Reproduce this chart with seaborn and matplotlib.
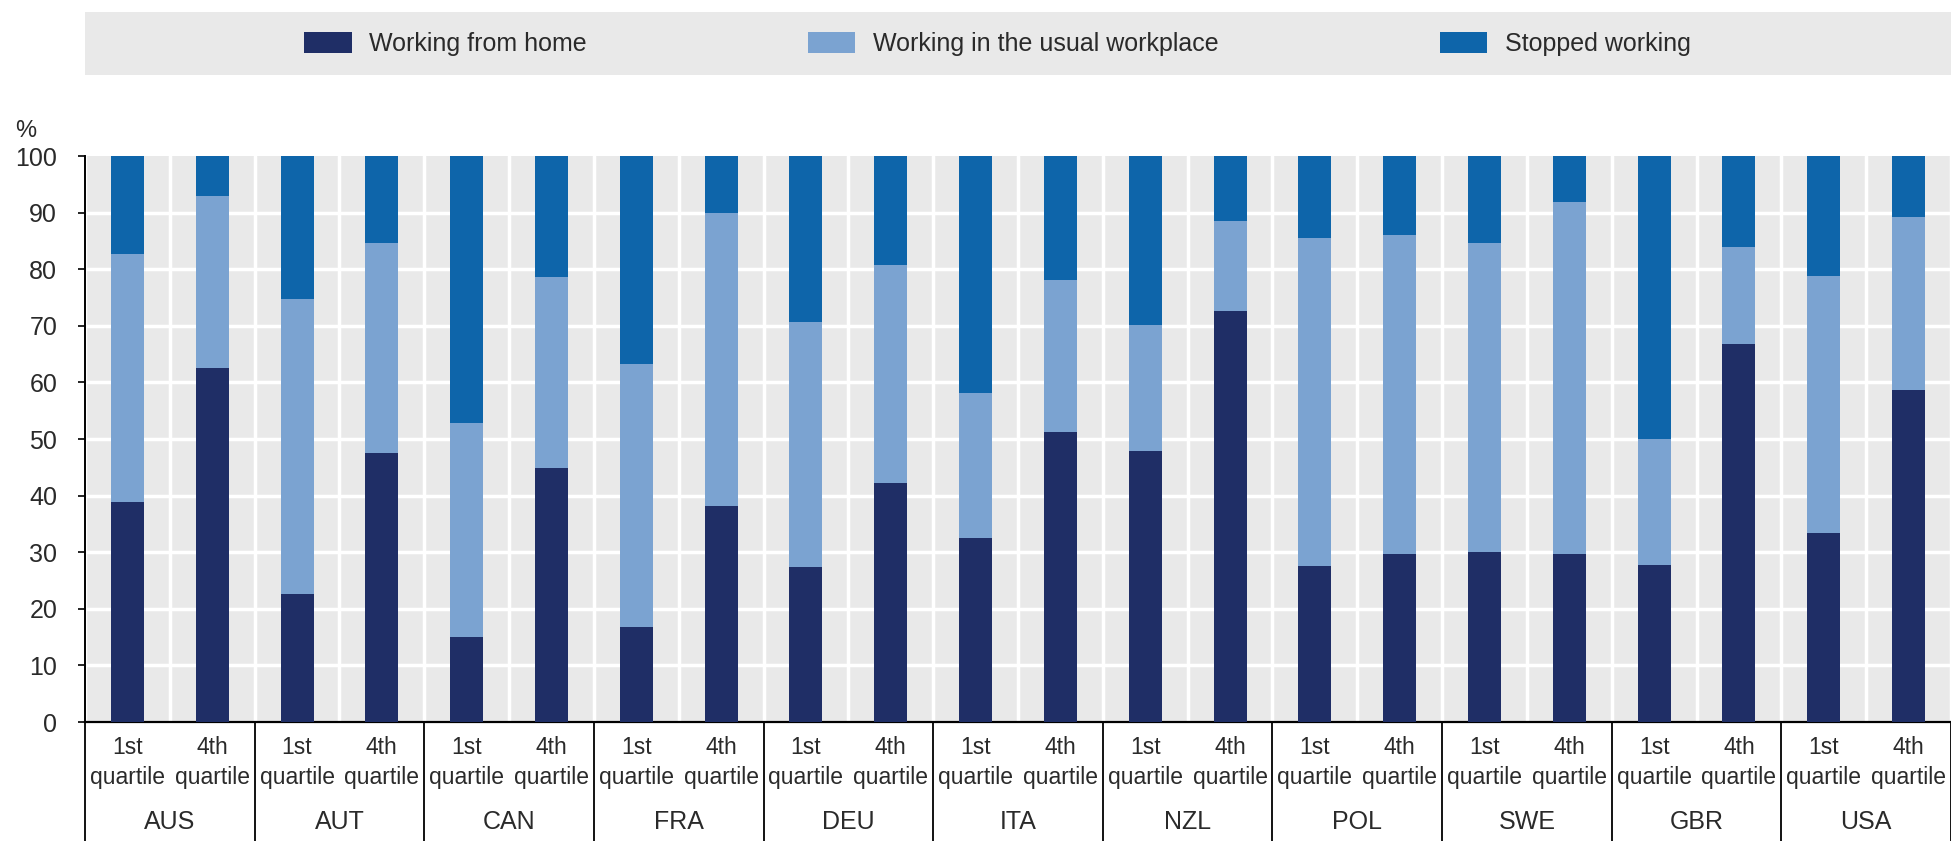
import matplotlib
matplotlib.use("Agg")
import matplotlib.pyplot as plt
import matplotlib.transforms as mtransforms
from matplotlib.patches import Rectangle, Patch
import numpy as np
import pandas as pd
import seaborn as sns

countries = ["AUS", "AUT", "CAN", "FRA", "DEU", "ITA", "NZL", "POL", "SWE", "GBR", "USA"]
quartiles = ["1st\nquartile", "4th\nquartile"]

# share of workers (%), pairs = (1st quartile, 4th quartile) per country
home = [38.8, 62.6, 22.7, 47.6, 15.0, 44.9, 16.7, 38.2, 27.4, 42.3, 32.5,
        51.3, 47.8, 72.6, 27.5, 29.6, 30.1, 29.6, 27.7, 66.8, 33.4, 58.6]
usual_top = [82.6, 92.9, 74.8, 84.7, 52.9, 78.6, 63.2, 89.9, 70.6, 80.8, 58.2,
             78.1, 70.1, 88.6, 85.6, 86.1, 84.7, 91.8, 50.0, 84.0, 78.8, 89.3]
stopped_top = [100.0] * 22

series_names = ["Working from home", "Working in the usual workplace", "Stopped working"]
colors = {"home": "#1f2e66", "usual": "#7ba3d1", "stopped": "#0e65aa"}
txt = "#2a2a2a"

slots = [f"{c} {q}" for c in countries for q in ["1st", "4th"]]
df = pd.DataFrame({
    "slot": slots,
    "home": home,
    "usual_top": usual_top,
    "stopped_top": stopped_top,
})

sns.set_theme(style="white")
plt.rcParams["font.family"] = ["Liberation Sans Narrow", "Liberation Sans", "DejaVu Sans"]

fig = plt.figure(figsize=(19.51, 8.41), dpi=100)
W, H = 1951, 841
ax = fig.add_axes([85 / W, 1 - 722 / H, 1 - 85 / W, (722 - 156) / H])
ax.set_facecolor("#e9e9e9")

bw = 0.39
sns.barplot(data=df, x="slot", y="stopped_top", order=slots, color=colors["stopped"],
            width=bw, saturation=1, ax=ax, zorder=3)
sns.barplot(data=df, x="slot", y="usual_top", order=slots, color=colors["usual"],
            width=bw, saturation=1, ax=ax, zorder=3)
sns.barplot(data=df, x="slot", y="home", order=slots, color=colors["home"],
            width=bw, saturation=1, ax=ax, zorder=3)
for p in ax.patches:
    p.set_linewidth(0)

ax.set_xlim(-0.5, len(slots) - 0.5)
ax.set_ylim(0, 100)
ax.set_yticks(np.arange(0, 101, 10))
ax.tick_params(axis="y", labelsize=18, labelcolor=txt, length=5, width=1.2, color="black",
               direction="out", pad=15, left=True)
for v in range(10, 100, 10):
    ax.axhline(v, color="white", lw=2.5, zorder=1)
for b in np.arange(-0.5, len(slots), 1.0):
    ax.axvline(b, color="white", lw=2.5, zorder=1)

for s in ["top", "right"]:
    ax.spines[s].set_visible(False)
ax.spines["left"].set_color("black")
ax.spines["left"].set_linewidth(1.4)
ax.spines["bottom"].set_color("black")
ax.spines["bottom"].set_linewidth(1.6)

ax.set_xlabel("")
ax.set_ylabel("")
ax.set_xticks(range(len(slots)))
ax.set_xticklabels(quartiles * len(countries), fontsize=16.5, linespacing=1.4, color=txt)
ax.tick_params(axis="x", length=0, pad=10)

trans = mtransforms.blended_transform_factory(ax.transData, ax.transAxes)
low = -(841 - 722) / (722 - 156)
for i in range(len(countries) + 1):
    xb = -0.5 + 2 * i
    ax.plot([xb, xb], [0, low], transform=trans, color="black", lw=1.3, clip_on=False)
for i, c in enumerate(countries):
    ax.text(2 * i + 0.5, -(822 - 722) / (722 - 156), c, transform=trans, ha="center",
            va="center", fontsize=18, color=txt)

fig.text(15 / W, 1 - 131 / H, "%", fontsize=17, ha="left", va="center", color=txt)

# legend band
fig.patches.append(Rectangle((85 / W, 1 - 75 / H), 1 - 85 / W, 63 / H,
                             transform=fig.transFigure, facecolor="#e9e9e9",
                             edgecolor="none", zorder=0))
handles = [Patch(facecolor=colors[k], edgecolor="none") for k in ["home", "usual", "stopped"]]
fig.legend(handles, series_names, loc="center left", bbox_to_anchor=(304 / W, 1 - 44 / H),
           ncol=3, frameon=False, fontsize=18, labelcolor=txt, handlelength=1.9,
           handleheight=0.9, handletextpad=0.7, columnspacing=8.85, borderaxespad=0,
           borderpad=0)

fig.savefig("out.png", dpi=100)
